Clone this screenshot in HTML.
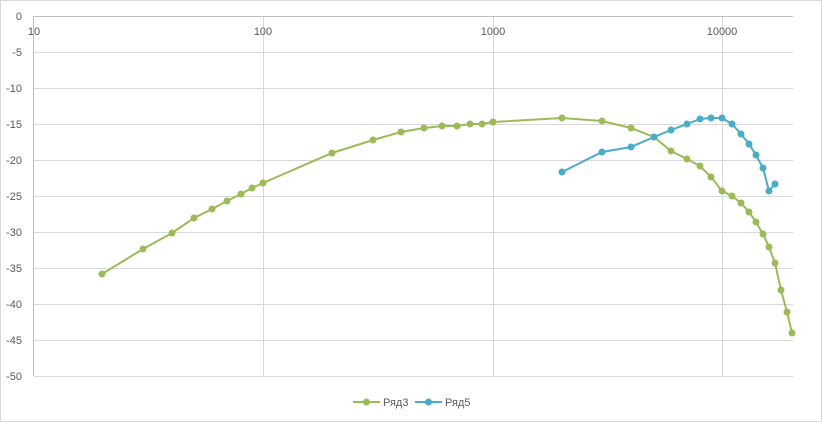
<!DOCTYPE html><html><head><style>body{margin:0;background:#fff}svg{display:block;font-family:"Liberation Sans",sans-serif}</style></head><body>
<svg width="823" height="425" xmlns="http://www.w3.org/2000/svg">
<rect x="0.5" y="0.5" width="821" height="421" fill="#fff" stroke="#d9d9d9"/>
<g stroke="#d9d9d9" stroke-width="1">
<line x1="34" y1="52.5" x2="793" y2="52.5"/><line x1="34" y1="88.5" x2="793" y2="88.5"/><line x1="34" y1="124.5" x2="793" y2="124.5"/><line x1="34" y1="160.5" x2="793" y2="160.5"/><line x1="34" y1="196.5" x2="793" y2="196.5"/><line x1="34" y1="232.5" x2="793" y2="232.5"/><line x1="34" y1="268.5" x2="793" y2="268.5"/><line x1="34" y1="304.5" x2="793" y2="304.5"/><line x1="34" y1="340.5" x2="793" y2="340.5"/><line x1="34" y1="376.5" x2="793" y2="376.5"/>
<line x1="263.5" y1="16" x2="263.5" y2="376"/><line x1="493.5" y1="16" x2="493.5" y2="376"/><line x1="722.5" y1="16" x2="722.5" y2="376"/>
</g>
<g stroke="#bfbfbf"><line x1="34" y1="16.5" x2="793" y2="16.5"/><line x1="33.5" y1="16" x2="33.5" y2="376"/></g>
<g font-size="11" fill="#595959" text-anchor="end">
<text x="22" y="20">0</text><text x="22" y="56">-5</text><text x="22" y="92">-10</text><text x="22" y="128">-15</text><text x="22" y="164">-20</text><text x="22" y="200">-25</text><text x="22" y="236">-30</text><text x="22" y="272">-35</text><text x="22" y="308">-40</text><text x="22" y="344">-45</text><text x="22" y="380">-50</text>
</g>
<g font-size="11" fill="#595959" text-anchor="middle">
<text x="34" y="35">10</text><text x="263" y="35">100</text><text x="493" y="35">1000</text><text x="722" y="35">10000</text>
</g>
<g fill="none" stroke-width="2">
<polyline stroke="#9bbb59" points="102,274 143,249 172,233 194,218 212,209 227,201 241,194 252,188 263,183 332,153 373,140 401,132 424,128 442,126 457,126 470,124 482,124 493,122 562,118 602,121 631,128 654,137 671,151 687,159 700,166 711,177 722,191 732,196 741,203 749,212 756,222 763,234 769,247 775,263 781,290 787,312 792,333"/>
<polyline stroke="#4bacc6" points="562,172 602,152 631,147 654,137 671,130 687,124 700,119 711,118 722,118 732,124 741,134 749,144 756,155 763,168 769,191 775,184"/>
</g>
<g fill="#9bbb59">
<circle cx="102" cy="274" r="3.5"/><circle cx="143" cy="249" r="3.5"/><circle cx="172" cy="233" r="3.5"/><circle cx="194" cy="218" r="3.5"/><circle cx="212" cy="209" r="3.5"/><circle cx="227" cy="201" r="3.5"/><circle cx="241" cy="194" r="3.5"/><circle cx="252" cy="188" r="3.5"/><circle cx="263" cy="183" r="3.5"/><circle cx="332" cy="153" r="3.5"/><circle cx="373" cy="140" r="3.5"/><circle cx="401" cy="132" r="3.5"/><circle cx="424" cy="128" r="3.5"/><circle cx="442" cy="126" r="3.5"/><circle cx="457" cy="126" r="3.5"/><circle cx="470" cy="124" r="3.5"/><circle cx="482" cy="124" r="3.5"/><circle cx="493" cy="122" r="3.5"/><circle cx="562" cy="118" r="3.5"/><circle cx="602" cy="121" r="3.5"/><circle cx="631" cy="128" r="3.5"/><circle cx="654" cy="137" r="3.5"/><circle cx="671" cy="151" r="3.5"/><circle cx="687" cy="159" r="3.5"/><circle cx="700" cy="166" r="3.5"/><circle cx="711" cy="177" r="3.5"/><circle cx="722" cy="191" r="3.5"/><circle cx="732" cy="196" r="3.5"/><circle cx="741" cy="203" r="3.5"/><circle cx="749" cy="212" r="3.5"/><circle cx="756" cy="222" r="3.5"/><circle cx="763" cy="234" r="3.5"/><circle cx="769" cy="247" r="3.5"/><circle cx="775" cy="263" r="3.5"/><circle cx="781" cy="290" r="3.5"/><circle cx="787" cy="312" r="3.5"/><circle cx="792" cy="333" r="3.5"/>
</g>
<g fill="#4bacc6">
<circle cx="562" cy="172" r="3.5"/><circle cx="602" cy="152" r="3.5"/><circle cx="631" cy="147" r="3.5"/><circle cx="654" cy="137" r="3.5"/><circle cx="671" cy="130" r="3.5"/><circle cx="687" cy="124" r="3.5"/><circle cx="700" cy="119" r="3.5"/><circle cx="711" cy="118" r="3.5"/><circle cx="722" cy="118" r="3.5"/><circle cx="732" cy="124" r="3.5"/><circle cx="741" cy="134" r="3.5"/><circle cx="749" cy="144" r="3.5"/><circle cx="756" cy="155" r="3.5"/><circle cx="763" cy="168" r="3.5"/><circle cx="769" cy="191" r="3.5"/><circle cx="775" cy="184" r="3.5"/>
</g>
<g font-size="11" fill="#595959">
<line x1="353" y1="402" x2="380" y2="402" stroke="#9bbb59" stroke-width="2"/><circle cx="366.5" cy="402" r="3.5" fill="#9bbb59"/><text x="383" y="406">Ряд3</text>
<line x1="415" y1="402" x2="442" y2="402" stroke="#4bacc6" stroke-width="2"/><circle cx="428.5" cy="402" r="3.5" fill="#4bacc6"/><text x="445" y="406">Ряд5</text>
</g>
</svg></body></html>
